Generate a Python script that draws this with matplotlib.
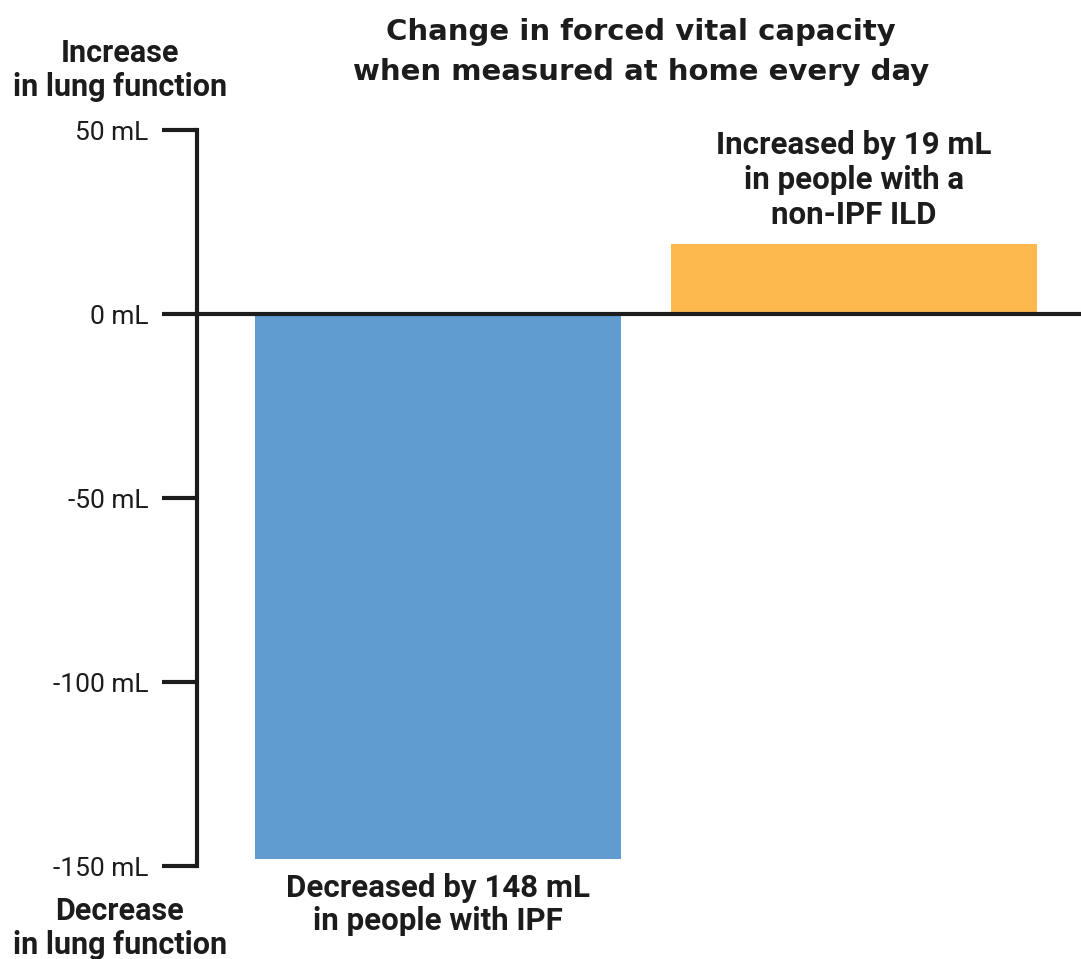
import matplotlib.pyplot as plt
from matplotlib import font_manager

groups = ['IPF', 'non-IPF ILD']
change_ml = [-148, 19]
bar_colors = ['#619cd1', '#fdb94e']
bar_notes = ['Decreased by 148 mL\nin people with IPF',
             'Increased by 19 mL\nin people with a\nnon-IPF ILD']
tick_values = [50, 0, -50, -100, -150]
tick_labels = ['50 mL', '0 mL', '-50 mL', '-100 mL', '-150 mL']

names = {f.name for f in font_manager.fontManager.ttflist}
narrow = 'Liberation Sans Narrow' if 'Liberation Sans Narrow' in names else 'Roboto'
ink = '#1c1c1c'

fig = plt.figure(figsize=(10.81, 9.59), dpi=100)
ax = fig.add_axes([197 / 1081, 93 / 959, 884 / 1081, 736 / 959])

pos = list(range(len(groups)))
ax.bar(pos, change_ml, width=0.88, color=bar_colors, zorder=2)
ax.set_xlim(-0.579, 1.546)
ax.set_ylim(-150, 50)

for s in ['top', 'right', 'bottom']:
    ax.spines[s].set_visible(False)
ax.spines['left'].set_linewidth(3)
ax.spines['left'].set_color(ink)
ax.axhline(0, color=ink, lw=3, zorder=3)

ax.set_xticks([])
ax.set_yticks(tick_values)
ax.set_yticklabels(tick_labels, fontsize=19, family=narrow, color=ink)
ax.tick_params(axis='y', length=25, width=3, color=ink, pad=10)

# notes under/over each bar
for p, v, note in zip(pos, change_ml, bar_notes):
    if v < 0:
        ax.annotate(note, (p, v), xytext=(0, -10), textcoords='offset points',
                    ha='center', va='top', fontsize=22.5, fontweight='bold',
                    family=narrow, color=ink, linespacing=1.15)
    else:
        ax.annotate(note, (p, v), xytext=(0, 10), textcoords='offset points',
                    ha='center', va='bottom', fontsize=22.5, fontweight='bold',
                    family=narrow, color=ink, linespacing=1.22)

fig.text(120 / 1081, 1 - 70 / 959, 'Increase\nin lung function', ha='center',
         va='center', fontsize=22, fontweight='bold', family=narrow,
         color=ink, linespacing=1.15)
fig.text(120 / 1081, 1 - 928 / 959, 'Decrease\nin lung function', ha='center',
         va='center', fontsize=22, fontweight='bold', family=narrow,
         color=ink, linespacing=1.15)
fig.text(641 / 1081, 1 - 52 / 959,
         'Change in forced vital capacity\nwhen measured at home every day',
         ha='center', va='center', fontsize=21, fontweight='bold',
         color=ink, linespacing=1.5)

fig.savefig('out.png', dpi=100)
